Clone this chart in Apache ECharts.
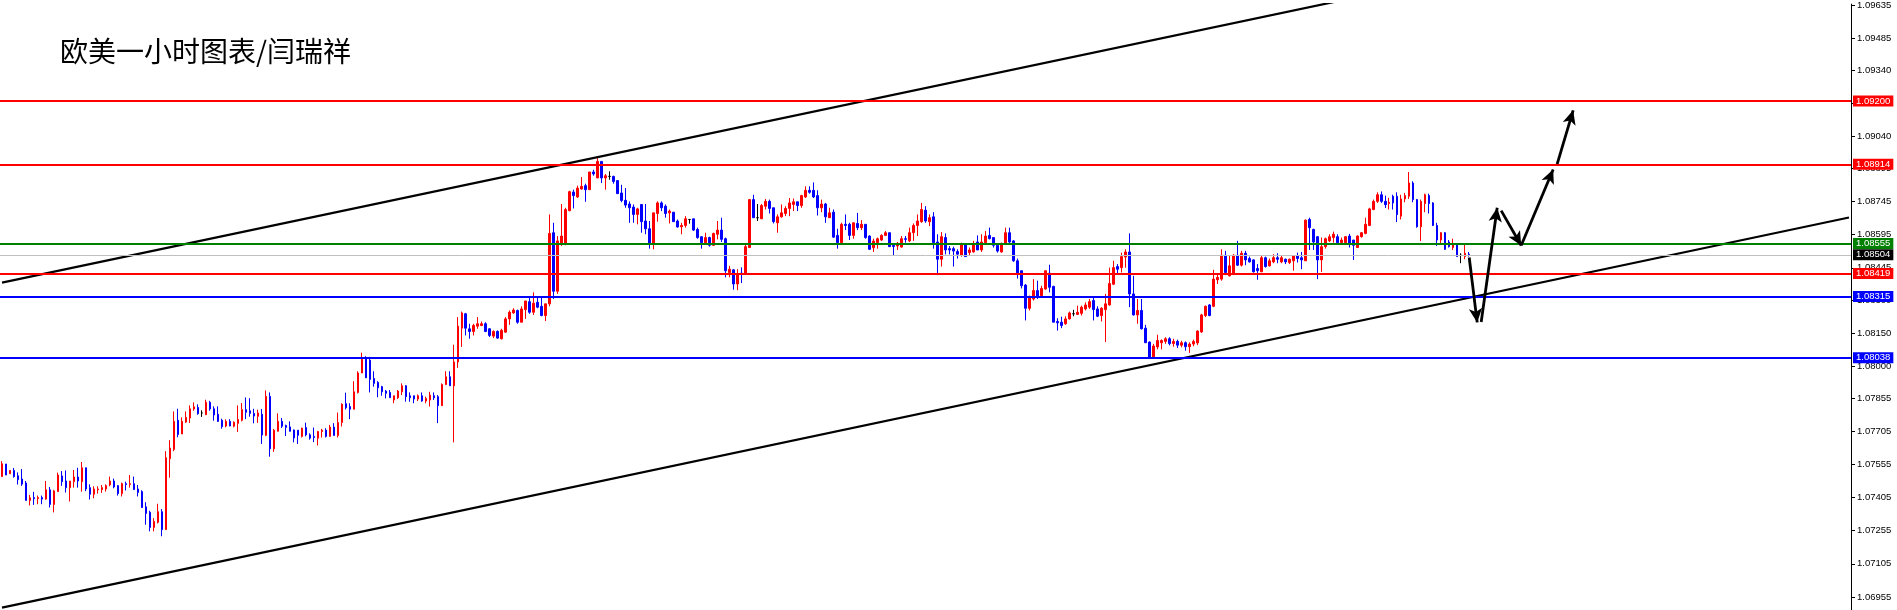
<!DOCTYPE html>
<html><head><meta charset="utf-8">
<script src="https://cdn.jsdelivr.net/npm/echarts@6/dist/echarts.min.js"></script>
<style>html,body{margin:0;padding:0;background:#fff;overflow:hidden}#c{width:1897px;height:610px}</style>
</head><body><div id="c"></div>
<script>
const chartTitle = '欧美一小时图表/闫瑞祥';
const open = [
1.07500,1.07557,1.07513,1.07528,1.07504,1.07489,1.07471,1.07392,1.07405,1.07400,
1.07405,1.07398,1.07440,1.07374,1.07432,1.07503,1.07480,1.07450,1.07477,1.07498,
1.07477,1.07540,1.07450,1.07420,1.07440,1.07441,1.07444,1.07462,1.07480,1.07459,
1.07423,1.07468,1.07464,1.07468,1.07444,1.07432,1.07363,1.07338,1.07270,1.07293,
1.07341,1.07260,1.07581,1.07623,1.07755,1.07693,1.07747,1.07765,1.07806,1.07813,
1.07788,1.07780,1.07836,1.07807,1.07782,1.07755,1.07729,1.07750,1.07728,1.07741,
1.07755,1.07803,1.07798,1.07786,1.07773,1.07782,1.07687,1.07863,1.07626,1.07705,
1.07750,1.07731,1.07725,1.07711,1.07710,1.07682,1.07722,1.07689,1.07682,1.07674,
1.07704,1.07710,1.07682,1.07724,1.07686,1.07745,1.07830,1.07817,1.07805,1.07881,
1.07969,1.08034,1.08027,1.07944,1.07926,1.07907,1.07887,1.07881,1.07847,1.07857,
1.07884,1.07911,1.07866,1.07866,1.07851,1.07866,1.07842,1.07847,1.07866,1.07862,
1.07821,1.07917,1.07952,1.07911,1.08019,1.08172,1.08237,1.08169,1.08157,1.08181,
1.08184,1.08192,1.08169,1.08136,1.08157,1.08124,1.08154,1.08214,1.08241,1.08252,
1.08199,1.08256,1.08292,1.08244,1.08289,1.08271,1.08229,1.08282,1.08604,1.08339,
1.08552,1.08552,1.08704,1.08788,1.08766,1.08802,1.08817,1.08799,1.08879,1.08852,
1.08927,1.08852,1.08859,1.08859,1.08840,1.08784,1.08751,1.08734,1.08720,1.08687,
1.08732,1.08657,1.08622,1.08552,1.08691,1.08739,1.08724,1.08694,1.08697,1.08657,
1.08631,1.08637,1.08664,1.08667,1.08619,1.08586,1.08559,1.08582,1.08547,1.08597,
1.08616,1.08577,1.08424,1.08436,1.08372,1.08421,1.08421,1.08537,1.08754,1.08672,
1.08667,1.08724,1.08746,1.08717,1.08649,1.08676,1.08691,1.08714,1.08732,1.08744,
1.08727,1.08766,1.08796,1.08796,1.08772,1.08717,1.08734,1.08672,1.08697,1.08592,
1.08559,1.08642,1.08642,1.08592,1.08646,1.08627,1.08642,1.08589,1.08536,1.08559,
1.08571,1.08592,1.08604,1.08547,1.08544,1.08539,1.08577,1.08567,1.08604,1.08637,
1.08654,1.08706,1.08654,1.08676,1.08562,1.08484,1.08582,1.08532,1.08532,1.08519,
1.08502,1.08552,1.08514,1.08517,1.08562,1.08526,1.08559,1.08592,1.08582,1.08547,
1.08517,1.08556,1.08604,1.08567,1.08477,1.08432,1.08367,1.08262,1.08304,1.08342,
1.08319,1.08349,1.08421,1.08361,1.08202,1.08199,1.08192,1.08214,1.08237,1.08234,
1.08239,1.08259,1.08267,1.08297,1.08259,1.08229,1.08256,1.08277,1.08371,1.08451,
1.08446,1.08494,1.08517,1.08327,1.08232,1.08252,1.08172,1.08109,1.08042,1.08087,
1.08106,1.08112,1.08124,1.08102,1.08112,1.08095,1.08106,1.08088,1.08100,1.08105,
1.08155,1.08229,1.08277,1.08271,1.08391,1.08394,1.08502,1.08409,1.08417,1.08502,
1.08457,1.08511,1.08487,1.08481,1.08442,1.08427,1.08491,1.08454,1.08472,1.08491,
1.08472,1.08484,1.08469,1.08477,1.08499,1.08491,1.08477,1.08664,1.08619,1.08586,
1.08481,1.08541,1.08567,1.08582,1.08586,1.08559,1.08559,1.08589,1.08571,1.08537,
1.08586,1.08601,1.08637,1.08709,1.08746,1.08776,1.08746,1.08736,1.08769,1.08769,
1.08679,1.08757,1.08769,1.08829,1.08754,1.08631,1.08736,1.08772,1.08739,1.08637,
1.08571,1.08604,1.08562,1.08537,1.08552,1.08502,1.08496,1.08507];
const high = [
1.07570,1.07557,1.07528,1.07539,1.07519,1.07534,1.07480,1.07417,1.07431,1.07414,
1.07414,1.07480,1.07453,1.07440,1.07518,1.07525,1.07528,1.07480,1.07530,1.07540,
1.07566,1.07540,1.07465,1.07456,1.07456,1.07462,1.07465,1.07500,1.07491,1.07462,
1.07473,1.07477,1.07507,1.07500,1.07462,1.07438,1.07384,1.07345,1.07312,1.07377,
1.07353,1.07615,1.07665,1.07795,1.07807,1.07768,1.07795,1.07822,1.07836,1.07827,
1.07800,1.07848,1.07843,1.07818,1.07818,1.07762,1.07759,1.07760,1.07750,1.07822,
1.07833,1.07858,1.07855,1.07807,1.07803,1.07806,1.07890,1.07881,1.07716,1.07786,
1.07765,1.07735,1.07750,1.07713,1.07710,1.07722,1.07744,1.07696,1.07722,1.07707,
1.07716,1.07719,1.07734,1.07742,1.07790,1.07832,1.07880,1.07832,1.07932,1.07977,
1.08061,1.08045,1.08042,1.07977,1.07932,1.07911,1.07892,1.07892,1.07866,1.07892,
1.07922,1.07914,1.07881,1.07866,1.07872,1.07881,1.07862,1.07884,1.07881,1.07869,
1.07922,1.07977,1.07977,1.08097,1.08222,1.08247,1.08241,1.08192,1.08192,1.08222,
1.08202,1.08199,1.08172,1.08162,1.08162,1.08169,1.08222,1.08252,1.08262,1.08256,
1.08271,1.08295,1.08316,1.08334,1.08316,1.08312,1.08282,1.08687,1.08649,1.08589,
1.08734,1.08717,1.08794,1.08799,1.08817,1.08856,1.08826,1.08879,1.08889,1.08942,
1.08927,1.08870,1.08882,1.08862,1.08841,1.08821,1.08806,1.08746,1.08732,1.08717,
1.08732,1.08734,1.08657,1.08694,1.08746,1.08746,1.08732,1.08709,1.08697,1.08664,
1.08649,1.08679,1.08664,1.08667,1.08627,1.08589,1.08604,1.08586,1.08604,1.08657,
1.08672,1.08582,1.08454,1.08439,1.08439,1.08447,1.08552,1.08757,1.08776,1.08734,
1.08734,1.08757,1.08754,1.08717,1.08687,1.08732,1.08724,1.08761,1.08759,1.08744,
1.08776,1.08814,1.08814,1.08832,1.08796,1.08754,1.08739,1.08717,1.08709,1.08622,
1.08649,1.08687,1.08649,1.08649,1.08694,1.08661,1.08642,1.08592,1.08577,1.08582,
1.08597,1.08612,1.08604,1.08552,1.08562,1.08589,1.08589,1.08627,1.08646,1.08687,
1.08739,1.08724,1.08687,1.08697,1.08597,1.08607,1.08601,1.08544,1.08541,1.08529,
1.08559,1.08556,1.08537,1.08567,1.08592,1.08597,1.08612,1.08627,1.08582,1.08552,
1.08559,1.08627,1.08627,1.08571,1.08487,1.08432,1.08372,1.08319,1.08394,1.08387,
1.08364,1.08432,1.08459,1.08364,1.08217,1.08224,1.08226,1.08247,1.08255,1.08274,
1.08274,1.08289,1.08304,1.08316,1.08271,1.08267,1.08327,1.08446,1.08477,1.08462,
1.08514,1.08529,1.08601,1.08409,1.08304,1.08304,1.08187,1.08112,1.08101,1.08142,
1.08121,1.08131,1.08131,1.08124,1.08120,1.08115,1.08112,1.08108,1.08120,1.08162,
1.08237,1.08274,1.08281,1.08436,1.08417,1.08529,1.08522,1.08499,1.08507,1.08567,
1.08522,1.08522,1.08496,1.08484,1.08462,1.08502,1.08496,1.08487,1.08507,1.08511,
1.08499,1.08487,1.08487,1.08502,1.08514,1.08517,1.08664,1.08672,1.08622,1.08589,
1.08582,1.08582,1.08597,1.08609,1.08597,1.08582,1.08589,1.08599,1.08571,1.08592,
1.08607,1.08672,1.08717,1.08754,1.08787,1.08791,1.08772,1.08762,1.08776,1.08787,
1.08776,1.08784,1.08879,1.08837,1.08757,1.08754,1.08781,1.08781,1.08742,1.08649,
1.08607,1.08607,1.08571,1.08577,1.08556,1.08511,1.08552,1.08517];
const low = [
1.07500,1.07507,1.07513,1.07495,1.07464,1.07458,1.07392,1.07369,1.07372,1.07375,
1.07375,1.07395,1.07360,1.07338,1.07432,1.07458,1.07428,1.07387,1.07450,1.07450,
1.07432,1.07434,1.07396,1.07402,1.07423,1.07426,1.07432,1.07456,1.07447,1.07414,
1.07410,1.07437,1.07450,1.07440,1.07410,1.07359,1.07282,1.07252,1.07252,1.07288,
1.07230,1.07260,1.07495,1.07615,1.07678,1.07693,1.07743,1.07743,1.07798,1.07780,
1.07770,1.07780,1.07798,1.07753,1.07747,1.07717,1.07723,1.07728,1.07723,1.07702,
1.07750,1.07760,1.07771,1.07741,1.07743,1.07648,1.07683,1.07590,1.07612,1.07705,
1.07720,1.07684,1.07705,1.07655,1.07648,1.07677,1.07682,1.07667,1.07656,1.07641,
1.07677,1.07677,1.07682,1.07686,1.07677,1.07727,1.07804,1.07760,1.07805,1.07876,
1.07969,1.07947,1.07881,1.07907,1.07859,1.07866,1.07854,1.07857,1.07832,1.07851,
1.07869,1.07839,1.07839,1.07832,1.07842,1.07839,1.07832,1.07817,1.07847,1.07742,
1.07821,1.07914,1.07911,1.07655,1.07992,1.08087,1.08139,1.08124,1.08139,1.08169,
1.08181,1.08154,1.08132,1.08127,1.08124,1.08121,1.08151,1.08187,1.08237,1.08192,
1.08199,1.08214,1.08237,1.08232,1.08262,1.08226,1.08204,1.08271,1.08304,1.08327,
1.08544,1.08547,1.08701,1.08714,1.08761,1.08799,1.08744,1.08799,1.08862,1.08852,
1.08829,1.08799,1.08844,1.08826,1.08781,1.08742,1.08717,1.08649,1.08649,1.08642,
1.08604,1.08597,1.08532,1.08529,1.08654,1.08702,1.08672,1.08646,1.08654,1.08627,
1.08597,1.08627,1.08645,1.08612,1.08577,1.08532,1.08552,1.08541,1.08544,1.08574,
1.08562,1.08402,1.08402,1.08346,1.08344,1.08376,1.08421,1.08537,1.08672,1.08657,
1.08667,1.08709,1.08691,1.08646,1.08604,1.08672,1.08679,1.08679,1.08702,1.08702,
1.08717,1.08761,1.08781,1.08761,1.08682,1.08697,1.08649,1.08672,1.08582,1.08532,
1.08559,1.08616,1.08571,1.08577,1.08616,1.08616,1.08577,1.08526,1.08517,1.08532,
1.08567,1.08589,1.08541,1.08499,1.08526,1.08537,1.08559,1.08562,1.08567,1.08589,
1.08649,1.08649,1.08634,1.08532,1.08412,1.08451,1.08506,1.08506,1.08451,1.08487,
1.08496,1.08496,1.08502,1.08514,1.08526,1.08517,1.08552,1.08574,1.08537,1.08514,
1.08514,1.08552,1.08556,1.08472,1.08397,1.08352,1.08207,1.08252,1.08297,1.08304,
1.08316,1.08346,1.08334,1.08199,1.08161,1.08172,1.08187,1.08211,1.08226,1.08232,
1.08229,1.08252,1.08259,1.08207,1.08222,1.08202,1.08109,1.08274,1.08367,1.08421,
1.08424,1.08446,1.08267,1.08229,1.08192,1.08166,1.08106,1.08039,1.08039,1.08076,
1.08076,1.08101,1.08094,1.08088,1.08082,1.08085,1.08070,1.08060,1.08090,1.08095,
1.08150,1.08222,1.08226,1.08267,1.08372,1.08387,1.08412,1.08406,1.08412,1.08454,
1.08451,1.08457,1.08469,1.08424,1.08391,1.08427,1.08446,1.08451,1.08466,1.08466,
1.08466,1.08462,1.08462,1.08432,1.08469,1.08439,1.08477,1.08526,1.08526,1.08394,
1.08427,1.08532,1.08562,1.08559,1.08556,1.08552,1.08556,1.08537,1.08481,1.08537,
1.08582,1.08597,1.08634,1.08706,1.08739,1.08739,1.08716,1.08709,1.08709,1.08652,
1.08664,1.08742,1.08757,1.08742,1.08627,1.08566,1.08697,1.08691,1.08634,1.08544,
1.08552,1.08526,1.08537,1.08526,1.08496,1.08466,1.08484,1.08496];
const close = [
1.07558,1.07507,1.07528,1.07500,1.07486,1.07466,1.07392,1.07404,1.07400,1.07405,
1.07398,1.07440,1.07374,1.07435,1.07507,1.07477,1.07450,1.07480,1.07498,1.07480,
1.07540,1.07444,1.07420,1.07444,1.07444,1.07450,1.07459,1.07480,1.07453,1.07423,
1.07468,1.07464,1.07468,1.07441,1.07428,1.07360,1.07333,1.07270,1.07297,1.07341,
1.07260,1.07585,1.07629,1.07750,1.07690,1.07750,1.07768,1.07807,1.07816,1.07785,
1.07788,1.07836,1.07806,1.07779,1.07750,1.07726,1.07750,1.07729,1.07746,1.07759,
1.07803,1.07791,1.07786,1.07774,1.07788,1.07688,1.07863,1.07626,1.07710,1.07750,
1.07728,1.07723,1.07705,1.07675,1.07687,1.07719,1.07689,1.07674,1.07677,1.07704,
1.07710,1.07682,1.07724,1.07686,1.07745,1.07827,1.07812,1.07805,1.07884,1.07969,
1.08031,1.07947,1.07940,1.07922,1.07902,1.07884,1.07877,1.07857,1.07866,1.07887,
1.07911,1.07862,1.07857,1.07851,1.07866,1.07842,1.07854,1.07869,1.07857,1.07821,
1.07917,1.07952,1.07911,1.08019,1.08181,1.08241,1.08172,1.08157,1.08184,1.08192,
1.08192,1.08157,1.08139,1.08157,1.08127,1.08162,1.08214,1.08244,1.08254,1.08199,
1.08259,1.08295,1.08244,1.08285,1.08267,1.08229,1.08282,1.08601,1.08339,1.08567,
1.08589,1.08709,1.08790,1.08772,1.08806,1.08814,1.08799,1.08879,1.08870,1.08927,
1.08852,1.08862,1.08859,1.08836,1.08781,1.08750,1.08729,1.08717,1.08687,1.08712,
1.08654,1.08622,1.08552,1.08694,1.08739,1.08717,1.08691,1.08702,1.08654,1.08630,
1.08637,1.08667,1.08664,1.08616,1.08582,1.08559,1.08582,1.08547,1.08601,1.08616,
1.08574,1.08432,1.08439,1.08372,1.08417,1.08417,1.08541,1.08754,1.08672,1.08672,
1.08727,1.08746,1.08714,1.08654,1.08676,1.08694,1.08714,1.08739,1.08744,1.08727,
1.08772,1.08796,1.08787,1.08766,1.08717,1.08734,1.08676,1.08694,1.08584,1.08559,
1.08642,1.08637,1.08592,1.08649,1.08627,1.08642,1.08582,1.08529,1.08566,1.08577,
1.08592,1.08604,1.08541,1.08542,1.08556,1.08577,1.08574,1.08604,1.08637,1.08657,
1.08709,1.08657,1.08672,1.08559,1.08484,1.08586,1.08526,1.08526,1.08521,1.08507,
1.08552,1.08496,1.08526,1.08556,1.08526,1.08562,1.08589,1.08577,1.08547,1.08521,
1.08556,1.08604,1.08562,1.08477,1.08417,1.08364,1.08262,1.08316,1.08342,1.08316,
1.08352,1.08432,1.08357,1.08199,1.08196,1.08184,1.08214,1.08241,1.08237,1.08244,
1.08267,1.08277,1.08292,1.08256,1.08226,1.08262,1.08282,1.08374,1.08446,1.08439,
1.08496,1.08517,1.08327,1.08232,1.08252,1.08169,1.08106,1.08039,1.08091,1.08116,
1.08116,1.08124,1.08102,1.08112,1.08095,1.08106,1.08088,1.08100,1.08112,1.08159,
1.08232,1.08271,1.08229,1.08394,1.08402,1.08502,1.08424,1.08454,1.08502,1.08457,
1.08511,1.08481,1.08472,1.08427,1.08432,1.08491,1.08451,1.08477,1.08491,1.08484,
1.08491,1.08472,1.08484,1.08499,1.08487,1.08481,1.08661,1.08627,1.08562,1.08481,
1.08541,1.08577,1.08586,1.08597,1.08559,1.08571,1.08586,1.08552,1.08547,1.08589,
1.08604,1.08642,1.08712,1.08746,1.08776,1.08746,1.08731,1.08742,1.08739,1.08686,
1.08757,1.08772,1.08829,1.08754,1.08631,1.08746,1.08776,1.08736,1.08637,1.08571,
1.08604,1.08529,1.08541,1.08552,1.08496,1.08502,1.08511,1.08504];

// horizontal price levels shown with tags on the price axis
const levelValues = [1.09200, 1.08914, 1.08555, 1.08504, 1.08419, 1.08315, 1.08038];
const levelColors = ['#FF0000', '#FF0000', '#008000', '#C0C0C0', '#FF0000', '#0000FF', '#0000FF'];
const levelTagColors = ['#FF0000', '#FF0000', '#008000', '#000000', '#FF0000', '#0000FF', '#0000FF'];
// price axis tick labels
const yTicks = [1.06955,1.07105,1.07255,1.07405,1.07555,1.07705,1.07855,1.08000,1.08150,1.08300,
                1.08445,1.08595,1.08745,1.08895,1.09040,1.09190,1.09340,1.09485,1.09635];
const yMin = 1.06896, yMax = 1.09639;
const slotCount = 463; // number of hourly slots across the chart
// channel trend lines: [barIndex, price] endpoints
const trendLines = [
  [[0, 1.08378], [462, 1.10140]],
  [[0, 1.06907], [462, 1.08673]]
];
// forecast arrows: [barIndex, price] start -> end
const arrows = [
  [[366.5, 1.08492], [369.3, 1.08198]],
  [[369.8, 1.08200], [374.3, 1.08717]],
  [[375.0, 1.08704], [379.5, 1.08546]],
  [[380.0, 1.08546], [388.2, 1.08890]],
  [[388.5, 1.08915], [393.3, 1.09158]]
];

const cats = [];
for (let i = 0; i < slotCount; i++) cats.push(String(i));
const kData = open.map((o, i) => [o, close[i], low[i], high[i]]);

const chart = echarts.init(document.getElementById('c'), null, {renderer: 'canvas'});
const axisFont = 'Liberation Sans, Arial, sans-serif';
chart.setOption({
  animation: false,
  backgroundColor: '#ffffff',
  title: {
    text: chartTitle, left: 55, top: 32,
    textStyle: {fontFamily: 'Noto Sans CJK SC', fontSize: 28, fontWeight: 'normal', color: '#000'}
  },
  grid: {left: 0, right: 46, top: 0, bottom: 0, containLabel: false},
  xAxis: {
    type: 'category', data: cats, boundaryGap: true,
    axisLine: {show: false}, axisTick: {show: false}, axisLabel: {show: false}, splitLine: {show: false}
  },
  yAxis: {
    type: 'value', position: 'right', min: yMin, max: yMax, scale: true,
    axisLine: {show: true, onZero: false, lineStyle: {color: '#000', width: 1}},
    axisTick: {show: true, length: 4, inside: false, customValues: yTicks, lineStyle: {color: '#000'}},
    axisLabel: {
      show: true, customValues: yTicks, margin: 6, color: '#000', fontSize: 9.5, fontFamily: axisFont,
      formatter: v => Number(v).toFixed(5)
    },
    splitLine: {show: false}
  },
  series: [
    {
      type: 'candlestick', data: kData, barWidth: 2, z: 3,
      itemStyle: {color: '#FF0000', color0: '#0000FF', borderColor: '#FF0000', borderColor0: '#0000FF',
                  borderColorDoji: '#000000', borderWidth: 1},
      markLine: {
        silent: true, symbol: ['none', 'none'], animation: false, precision: 5,
        data: levelValues.map((v, i) => ({
          yAxis: v,
          lineStyle: {color: levelColors[i], width: i === 3 ? 1 : 2, type: 'solid'},
          label: {show: true, position: 'end', distance: 2, formatter: v.toFixed(5),
                  backgroundColor: levelTagColors[i], color: '#fff', fontSize: 9.5, fontFamily: axisFont,
                  padding: [1, 3, 0, 3], lineHeight: 10}
        }))
      }
    },
    ...trendLines.map(tl => ({
      type: 'line', data: tl, symbol: 'none', clip: true, silent: true, z: 4,
      lineStyle: {color: '#000', width: 2.2}
    })),
    {
      type: 'line', data: [], silent: true, z: 5,
      markLine: {
        silent: true, animation: false, symbol: ['none', 'arrow'], symbolSize: [10, 14],
        lineStyle: {color: '#000', width: 2.8, type: 'solid'}, label: {show: false},
        data: arrows.map(a => [{coord: a[0]}, {coord: a[1]}])
      }
    }
  ]
});
</script>
</body></html>
